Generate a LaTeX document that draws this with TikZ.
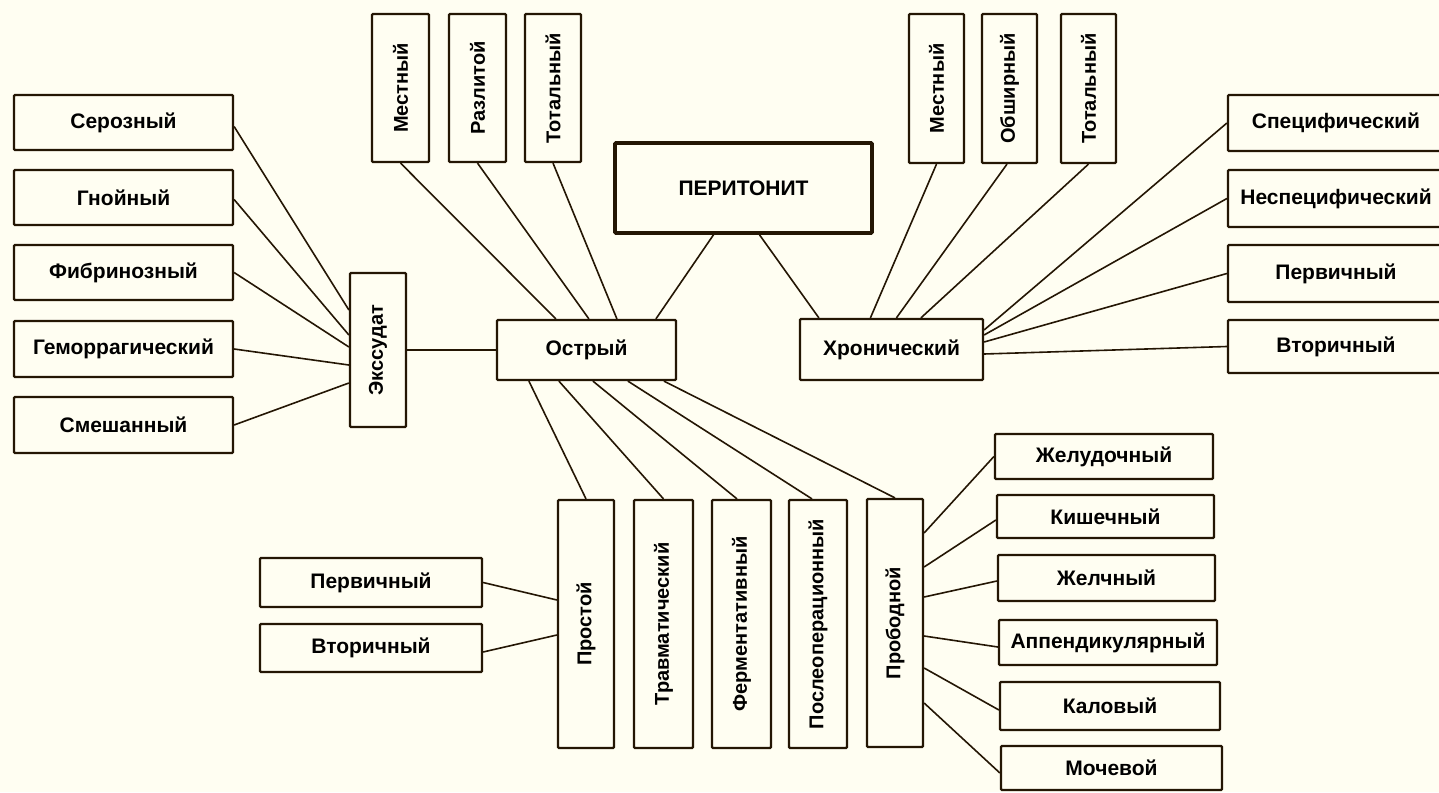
\documentclass[tikz,border=0pt]{standalone}
\usepackage{fontspec}
\setmainfont{Liberation Sans}
\usetikzlibrary{calc}
\definecolor{bg}{RGB}{255,254,242}
\definecolor{ink}{RGB}{36,22,4}
\begin{document}
\begin{tikzpicture}[x=1pt,y=-1pt,
  box/.style={draw=ink, line width=2.2pt, fill=bg, inner sep=0pt, text=black,
    font=\fontsize{21}{24}\selectfont\bfseries, rounded corners=1pt},
  vbox/.style={box, font=\fontsize{20}{24}\selectfont\bfseries},
  mainbox/.style={box, line width=3.6pt, font=\fontsize{21}{24}\selectfont\bfseries},
  link/.style={draw=ink, line width=1.6pt}]
\fill[bg] (0,0) rectangle (1439,792);
\useasboundingbox (0,0) rectangle (1439,792);

% main
\node[mainbox, minimum width=257pt, minimum height=90pt] (per) at (743.5,188) {ПЕРИТОНИТ};
\node[box, minimum width=179pt, minimum height=60pt] (ostr) at (586.5,350) {Острый};
\node[box, minimum width=183pt, minimum height=61pt] (hron) at (891.5,349.5) {Хронический};

% exudate column
\node[box, minimum width=219pt, minimum height=55pt] (ser) at (123.5,122.5) {Серозный};
\node[box, minimum width=219pt, minimum height=55pt] (gno) at (123.5,197.5) {Гнойный};
\node[box, minimum width=219pt, minimum height=55pt] (fib) at (123.5,272.5) {Фибринозный};
\node[box, minimum width=219pt, minimum height=56pt] (gem) at (123.5,349) {Геморрагический};
\node[box, minimum width=219pt, minimum height=56pt] (sme) at (123.5,425) {Смешанный};
\node[vbox, minimum width=56pt, minimum height=154pt] (ekss) at (378,350) {\rotatebox{90}{Экссудат}};

% acute top
\node[vbox, minimum width=57pt, minimum height=148pt] (mest1) at (400.5,88) {\rotatebox{90}{Местный}};
\node[vbox, minimum width=57pt, minimum height=148pt] (razl) at (477.5,88) {\rotatebox{90}{Разлитой}};
\node[vbox, minimum width=56pt, minimum height=148pt] (tot1) at (553,88) {\rotatebox{90}{Тотальный}};

% chronic top
\node[vbox, minimum width=55pt, minimum height=149pt] (mest2) at (936.5,88.5) {\rotatebox{90}{Местный}};
\node[vbox, minimum width=55pt, minimum height=149pt] (obsh) at (1009.5,88.5) {\rotatebox{90}{Обширный}};
\node[vbox, minimum width=55pt, minimum height=149pt] (tot2) at (1088.5,88.5) {\rotatebox{90}{Тотальный}};

% chronic right
\node[box, minimum width=216pt, minimum height=56pt] (spec) at (1336,123) {Специфический};
\node[box, minimum width=216pt, minimum height=57pt] (nespec) at (1336,198.5) {Неспецифический};
\node[box, minimum width=216pt, minimum height=57pt] (perv2) at (1336,273.5) {Первичный};
\node[box, minimum width=216pt, minimum height=53pt] (vtor2) at (1336,346.5) {Вторичный};

% acute bottom
\node[vbox, minimum width=56pt, minimum height=248pt] (prost) at (586,624) {\rotatebox{90}{Простой}};
\node[vbox, minimum width=59pt, minimum height=248pt] (travm) at (663.5,624) {\rotatebox{90}{Травматический}};
\node[vbox, minimum width=59pt, minimum height=248pt] (ferm) at (741.5,624) {\rotatebox{90}{Ферментативный}};
\node[vbox, minimum width=58pt, minimum height=248pt] (posle) at (818,624) {\rotatebox{90}{Послеоперационный}};
\node[vbox, minimum width=56pt, minimum height=248pt] (probod) at (895,623) {\rotatebox{90}{Прободной}};

% simple left
\node[box, minimum width=222pt, minimum height=49pt] (perv1) at (371,582.5) {Первичный};
\node[box, minimum width=222pt, minimum height=48pt] (vtor1) at (371,648) {Вторичный};

% perforative right
\node[box, minimum width=218pt, minimum height=45pt] (zhel) at (1104,456.5) {Желудочный};
\node[box, minimum width=217pt, minimum height=43pt] (kish) at (1105.5,516.5) {Кишечный};
\node[box, minimum width=217pt, minimum height=46pt] (zhelch) at (1106.5,578) {Желчный};
\node[box, minimum width=218pt, minimum height=45pt] (app) at (1108,642.5) {Аппендикулярный};
\node[box, minimum width=220pt, minimum height=48pt] (kal) at (1110,706) {Каловый};
\node[box, minimum width=221pt, minimum height=44pt] (moch) at (1111.5,768) {Мочевой};

% connectors: exudate
\draw[link] ($(ser.east)+(0,4)$) -- ($(ekss.west)+(0,-40)$);
\draw[link] ($(gno.east)+(0,2)$) -- ($(ekss.west)+(0,-15)$);
\draw[link] (fib.east) -- ($(ekss.west)+(0,-3)$);
\draw[link] (gem.east) -- ($(ekss.west)+(0,15)$);
\draw[link] (sme.east) -- ($(ekss.west)+(0,33)$);
\draw[link] (ekss.east) -- (ostr.west);

% acute top
\draw[link] (mest1.south) -- ($(ostr.north west)+(60,0)$);
\draw[link] (razl.south) -- ($(ostr.north west)+(93,0)$);
\draw[link] (tot1.south) -- ($(ostr.north west)+(121,0)$);
\draw[link] ($(per.south)+(-30,0)$) -- ($(ostr.north west)+(160,0)$);
\draw[link] ($(per.south)+(16,0)$) -- ($(hron.north west)+(20,0)$);

% chronic
\draw[link] (mest2.south) -- ($(hron.north west)+(71.5,0)$);
\draw[link] ($(obsh.south)+(-2.5,0)$) -- ($(hron.north west)+(97.5,0)$);
\draw[link] (tot2.south) -- ($(hron.north west)+(122,0)$);
\draw[link] (spec.west) -- ($(hron.east)+(0,-19.5)$);
\draw[link] (nespec.west) -- ($(hron.east)+(0,-14.5)$);
\draw[link] (perv2.west) -- ($(hron.east)+(0,-7.5)$);
\draw[link] (vtor2.west) -- ($(hron.east)+(0,4.5)$);

% acute bottom
\draw[link] ($(ostr.south west)+(33,0)$) -- (prost.north);
\draw[link] ($(ostr.south west)+(63,0)$) -- (travm.north);
\draw[link] ($(ostr.south west)+(97,0)$) -- ($(ferm.north)+(-4.5,0)$);
\draw[link] ($(ostr.south west)+(132,0)$) -- ($(posle.north)+(-6,0)$);
\draw[link] ($(ostr.south west)+(168,0)$) -- (probod.north);

% simple
\draw[link] (perv1.east) -- ($(prost.west)+(0,-24)$);
\draw[link] ($(vtor1.east)+(0,4)$) -- ($(prost.west)+(0,11)$);

% perforative
\draw[link] ($(probod.east)+(0,-90)$) -- (zhel.west);
\draw[link] ($(probod.east)+(0,-56)$) -- ($(kish.west)+(0,3.5)$);
\draw[link] ($(probod.east)+(0,-26)$) -- ($(zhelch.west)+(0,3)$);
\draw[link] ($(probod.east)+(0,13)$) -- ($(app.west)+(0,4.5)$);
\draw[link] ($(probod.east)+(0,45)$) -- ($(kal.west)+(0,4)$);
\draw[link] ($(probod.east)+(0,80)$) -- ($(moch.west)+(0,5)$);
\end{tikzpicture}
\end{document}
